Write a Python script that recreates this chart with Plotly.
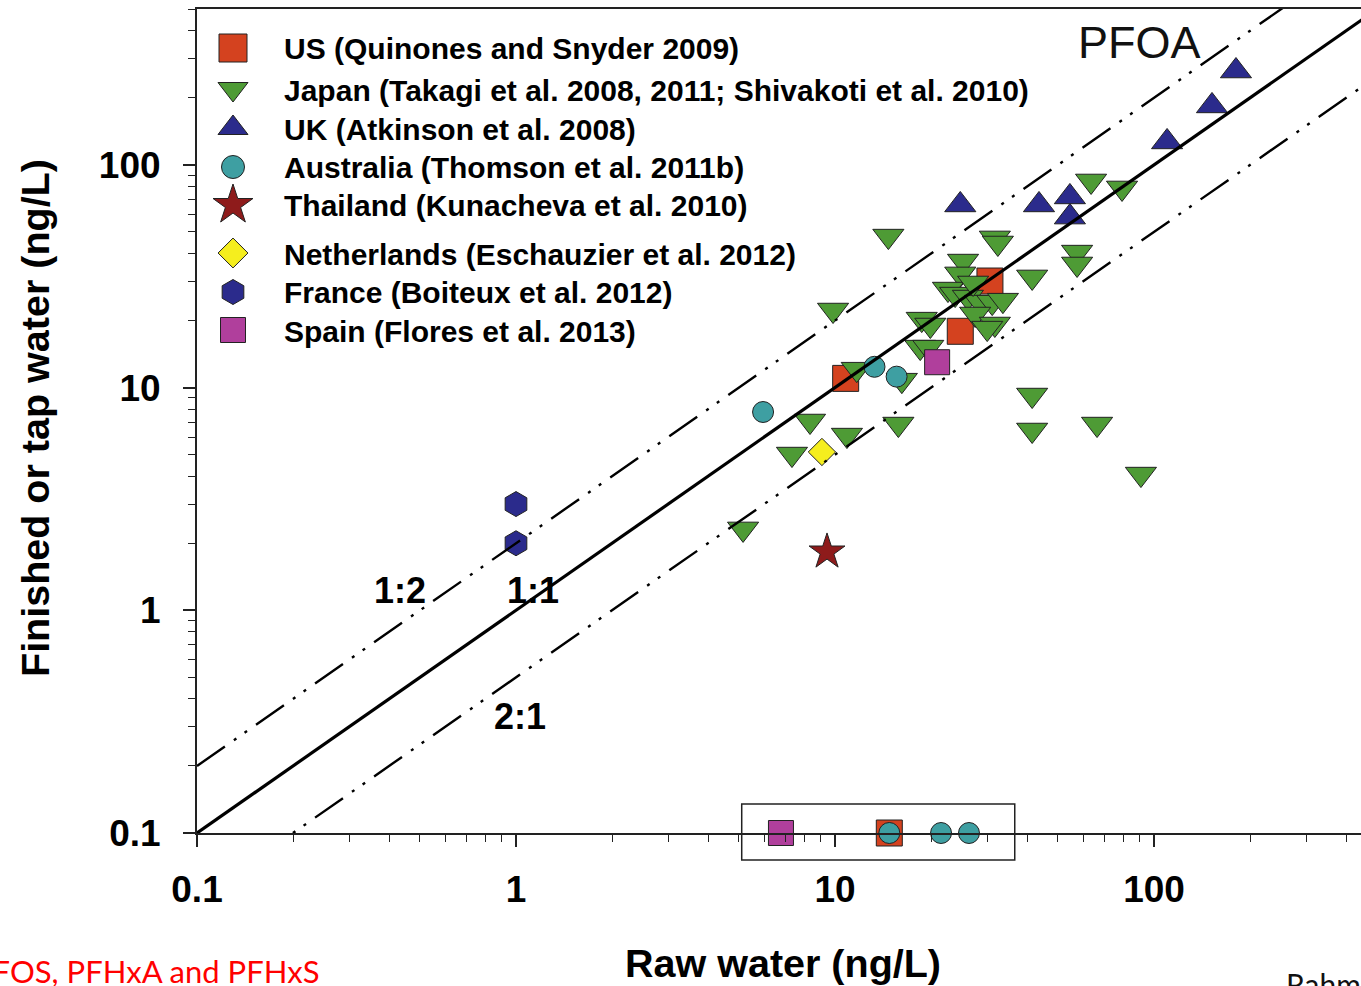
import math
import plotly.graph_objects as go

# ---------------- data (ng/L) ----------------
us_x = [10.8, 24.7, 30.6, 14.8]
us_y = [11.0, 17.9, 30.1, 0.1]

japan_x = [14.7, 31.7, 32.4, 41.5, 57.4, 57.4, 63.5, 79.4, 9.86, 25.2, 24.7, 22.6,
           23.8, 26.1, 28.5, 31.1, 27.5, 31.7, 30.0, 18.7, 19.9, 18.5, 19.6, 11.7,
           16.2, 8.35, 10.9, 15.8, 7.33, 41.5, 41.5, 66.3, 91.0, 5.15, 33.6, 27.1]
japan_y = [47.9, 47.0, 44.6, 31.4, 40.6, 35.9, 84.7, 78.8, 22.3, 37.0, 32.4, 27.7,
           26.3, 25.5, 24.2, 24.2, 21.4, 19.3, 18.5, 20.3, 19.1, 15.2, 15.2, 12.1,
           10.8, 7.08, 6.12, 6.86, 5.03, 9.26, 6.45, 6.86, 4.09, 2.32, 24.7, 29.5]

uk_x = [180.7, 152.0, 109.9, 24.7, 43.6, 54.5, 54.5]
uk_y = [264.0, 184.0, 126.8, 66.1, 66.1, 71.8, 58.3]

aus_x = [5.95, 13.3, 15.6, 14.8, 21.5, 26.3]
aus_y = [7.77, 12.4, 11.2, 0.1, 0.1, 0.1]

thai_x = [9.44]
thai_y = [1.83]

neth_x = [9.1]
neth_y = [5.14]

france_x = [1.0, 1.0]
france_y = [3.0, 2.0]

spain_x = [20.9, 6.77]
spain_y = [13.0, 0.1]

series_names = [
    "US (Quinones and Snyder 2009)",
    "Japan (Takagi et al. 2008, 2011; Shivakoti et al. 2010)",
    "UK (Atkinson et al. 2008)",
    "Australia (Thomson et al. 2011b)",
    "Thailand (Kunacheva et al. 2010)",
    "Netherlands (Eschauzier et al. 2012)",
    "France (Boiteux et al. 2012)",
    "Spain (Flores et al. 2013)",
]

# ratio lines: label, finished/raw ratio
ratio_values = [1.0, 2.0, 0.5]
ratio_labels = ["1:1", "1:2", "2:1"]
line_ends = [0.1, 500.0]

x_ticks = [0.1, 1, 10, 100]
x_ticktext = ["0.1", "1", "10", "100"]
y_ticks = [0.1, 1, 10, 100]
y_ticktext = ["0.1", "1", "10", "100"]

# non-detect box (raw water range) around points plotted at 0.1
box_x = [5.1, 36.6]

# ---------------- styles ----------------
colors = ["#D4421F", "#4E9B35", "#2B2B8C", "#3E9FA2", "#8E1B1B", "#F5EE1E", "#2B2B8C", "#B03F9C"]
symbols = ["square", "triangle-down", "triangle-up", "circle", "star", "diamond", "hexagon", "square"]
sizes = [26, 27, 27, 21, 27, 21, 25, 25]
leg_sizes = [28, 26, 26, 23, 30, 23, 25, 25]
series_x = [us_x, japan_x, uk_x, aus_x, thai_x, neth_x, france_x, spain_x]
series_y = [us_y, japan_y, uk_y, aus_y, thai_y, neth_y, france_y, spain_y]

W, H = 1361, 986
ML, MR, MT, MB = 197, 0, 9, 153
PW, PH = W - ML - MR, H - MT - MB
X_DEC, Y_DEC = 319.0, 222.7
x_range = [-1, -1 + PW / X_DEC]
y_range = [-1, -1 + PH / Y_DEC]


def pxx(x):
    return (x - ML) / PW


def pxy(y):
    return (H - MB - y) / PH


FONT = "Liberation Sans, Arial, sans-serif"
fig = go.Figure()

# data markers
for i in range(len(series_names)):
    fig.add_trace(go.Scatter(
        x=series_x[i], y=series_y[i], mode="markers", name=series_names[i],
        marker=dict(symbol=symbols[i], size=sizes[i], color=colors[i],
                    line=dict(color="#222222", width=1)),
        cliponaxis=False, showlegend=False, hoverinfo="x+y+name"))

# ratio lines (drawn on top of markers)
ratio_dash = ["solid", "34px,11px,3px,10px,3px,11px", "34px,11px,3px,10px,3px,11px"]
ratio_width = [3.2, 2.4, 2.4]
for r, lab, d, w in zip(ratio_values, ratio_labels, ratio_dash, ratio_width):
    fig.add_trace(go.Scatter(
        x=list(line_ends), y=[v * r for v in line_ends], mode="lines",
        line=dict(color="black", width=w, dash=d), showlegend=False, hoverinfo="skip",
        name=lab))

# custom legend on an overlay axis in paper units
leg_rows = [48, 89, 128, 167, 205, 253, 292, 330]
leg_x = 233
for i in range(len(series_names)):
    fig.add_trace(go.Scatter(
        x=[pxx(leg_x)], y=[pxy(leg_rows[i])], xaxis="x2", yaxis="y2", mode="markers",
        marker=dict(symbol=symbols[i], size=leg_sizes[i], color=colors[i],
                    line=dict(color="#222222", width=1)),
        cliponaxis=False, showlegend=False, hoverinfo="skip"))

annotations = []
for i in range(len(series_names)):
    annotations.append(dict(
        x=pxx(282), y=pxy(leg_rows[i] + 1), xref="paper", yref="paper",
        xanchor="left", yanchor="middle", showarrow=False, text=series_names[i],
        font=dict(family=FONT, size=30, color="black", weight="bold")))

# PFOA label
annotations.append(dict(x=pxx(1139), y=pxy(43), xref="paper", yref="paper",
                        xanchor="center", yanchor="middle", showarrow=False, text="PFOA",
                        font=dict(family=FONT, size=45, color="#111111")))
# ratio line labels
lab_pos = {"1:2": (400, 590), "1:1": (533, 590), "2:1": (520, 716)}
for lab in ratio_labels:
    px_, py_ = lab_pos[lab]
    annotations.append(dict(x=pxx(px_), y=pxy(py_), xref="paper", yref="paper",
                            xanchor="center", yanchor="middle", showarrow=False, text=lab,
                            font=dict(family=FONT, size=36, color="black", weight="bold")))
# axis titles
annotations.append(dict(x=pxx(783), y=pxy(963), xref="paper", yref="paper",
                        xanchor="center", yanchor="middle", showarrow=False,
                        text="Raw water (ng/L)",
                        font=dict(family=FONT, size=39.5, color="black", weight="bold")))
annotations.append(dict(x=pxx(35), y=pxy(418), xref="paper", yref="paper",
                        xanchor="center", yanchor="middle", showarrow=False, textangle=-90,
                        text="Finished or tap water (ng/L)",
                        font=dict(family=FONT, size=39.5, color="black", weight="bold")))
# slide fragments (cut by the page edges, as in the source slide)
annotations.append(dict(x=pxx(321), y=pxy(971), xref="paper", yref="paper",
                        xanchor="right", yanchor="middle", showarrow=False,
                        text="PFOS, PFHxA and PFHxS",
                        font=dict(family="Lato, Carlito, sans-serif", size=31, color="#FF0000")))
annotations.append(dict(x=pxx(1284), y=pxy(964), xref="paper", yref="paper",
                        xanchor="left", yanchor="top", showarrow=False,
                        text="Rahman et al. 2014",
                        font=dict(family="Lato, Carlito, sans-serif", size=30, color="#111111")))

shapes = [dict(type="rect", xref="paper", yref="paper",
               x0=(math.log10(box_x[0]) - x_range[0]) / (x_range[1] - x_range[0]),
               x1=(math.log10(box_x[1]) - x_range[0]) / (x_range[1] - x_range[0]),
               y0=pxy(860), y1=pxy(804),
               line=dict(color="#222222", width=1.5), fillcolor="rgba(0,0,0,0)")]

minor_vals = [m * d for d in [0.1, 1, 10, 100] for m in range(2, 10)]


def axis_common(standoff):
    return dict(
        type="log", showline=True, linecolor="#222222", linewidth=2,
        ticks="outside", ticklen=12, tickwidth=1.6, tickcolor="#222222",
        showgrid=False, zeroline=False,
        tickfont=dict(family=FONT, size=37, color="black", weight="bold"),
        ticklabelstandoff=standoff,
        minor=dict(ticks="outside", ticklen=7, tickwidth=1.4, tickcolor="#222222",
                   tickvals=minor_vals, showgrid=False),
    )


fig.update_layout(
    width=W, height=H,
    margin=dict(l=ML, r=MR, t=MT, b=MB, pad=0),
    paper_bgcolor="white", plot_bgcolor="white",
    showlegend=False,
    xaxis=dict(range=x_range, tickvals=x_ticks, ticktext=x_ticktext, mirror=True,
               **axis_common(11)),
    yaxis=dict(range=y_range, tickvals=y_ticks, ticktext=y_ticktext, **axis_common(15)),
    xaxis2=dict(overlaying="x", range=[0, 1], visible=False, fixedrange=True),
    yaxis2=dict(overlaying="y", range=[0, 1], visible=False, fixedrange=True),
    annotations=annotations,
    shapes=shapes,
)

fig.write_html("out.html")
